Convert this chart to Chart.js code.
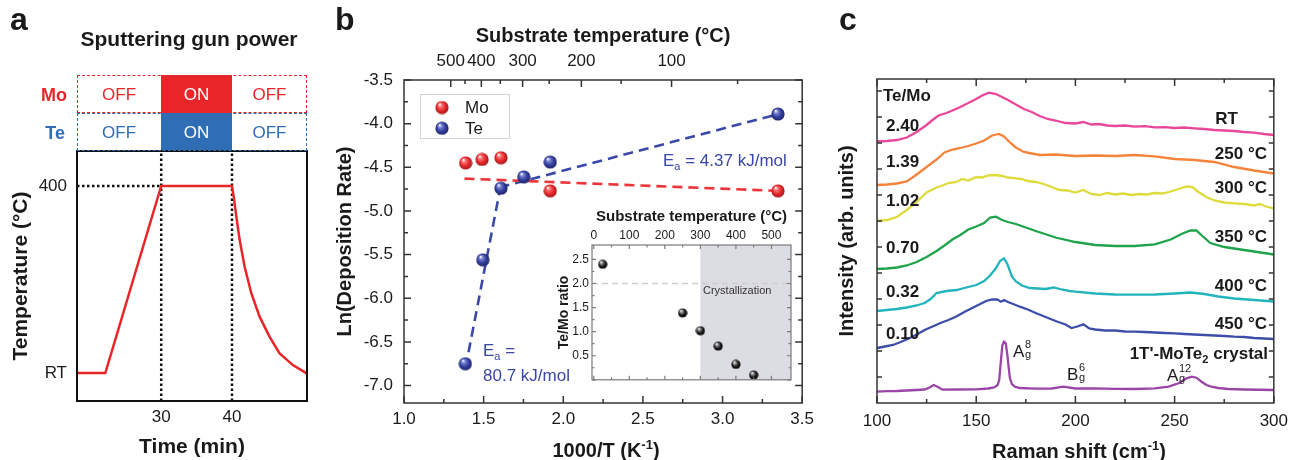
<!DOCTYPE html>
<html>
<head>
<meta charset="utf-8">
<script src="https://cdn.jsdelivr.net/npm/chart.js@4.4.0/dist/chart.umd.min.js"></script>
<style>
body { margin: 0; background: #fff; }
#wrap { position: relative; width: 1296px; height: 460px; overflow: hidden; font-family: "Liberation Sans", Arial, sans-serif; color: #1a1a1a; }
canvas { position: absolute; }
.t { position: absolute; line-height: 1; white-space: nowrap; }
.box { position: absolute; box-sizing: border-box; }
sub, sup { font-size: 0.65em; line-height: 0; }
</style>
</head>
<body>
<div id="wrap">
  <canvas id="chartA" width="320" height="460" style="left:0;top:0"></canvas>
  <canvas id="chartB" width="490" height="460" style="left:330px;top:0"></canvas>
  <canvas id="chartInset" width="257" height="190" style="left:540px;top:200px"></canvas>
  <canvas id="chartC" width="466" height="460" style="left:830px;top:0"></canvas>
</div>
<script>
// ---------- panel a: substrate temperature profile ----------
const profTime = [18.1, 22.1, 30, 40, 40.28, 40.62, 41.08, 41.79, 42.73, 43.9, 45.3, 46.7, 48.6, 50.6];
const profTemp = [25, 25, 400, 400, 375, 338, 292, 238, 185, 138, 98, 65, 41, 24];
const gunOn = [30, 40];
const plateauTemp = 400;
const roomTemp = 25;
const timeTicks = [30, 40];
const tempTicks = [25, 400];

// ---------- panel b: Arrhenius plot ----------
const moInvT = [1.387, 1.49, 1.609, 1.918, 3.348];
const moLnRate = [-4.45, -4.41, -4.39, -4.77, -4.77];
const teInvT = [1.385, 1.495, 1.609, 1.752, 1.918, 3.348];
const teLnRate = [-6.75, -5.56, -4.74, -4.61, -4.44, -3.89];
const moFitX = [1.38, 3.35];
const moFitY = [-4.63, -4.77];
const teFitLowX = [1.405, 1.60];
const teFitLowY = [-6.62, -4.78];
const teFitHighX = [1.60, 3.33];
const teFitHighY = [-4.73, -3.90];
const invTTicks = [1.0, 1.5, 2.0, 2.5, 3.0, 3.5];
const lnRateTicks = [-7.0, -6.5, -6.0, -5.5, -5.0, -4.5, -4.0, -3.5];
const topTemps = [500, 400, 300, 200, 100];
const topTempsMinor = [450, 350, 250, 150, 50];

// inset: Te/Mo ratio vs substrate temperature
const insetTemp = [25, 250, 300, 350, 400, 450];
const insetRatio = [2.40, 1.39, 1.02, 0.70, 0.32, 0.10];
const insetTempTicks = [0, 100, 200, 300, 400, 500];
const insetRatioTicks = [0, 0.5, 1.0, 1.5, 2.0, 2.5];
const crystTemp = 300;
const stoichRatio = 2.0;

// ---------- panel c: Raman spectra (offset, arb. units) ----------
const rtShift = [100,105,110,115,120,125,128,131,135,138,142,146,150,153,156.5,160,163,166,170,174,178,182,186,190,195,200,204,208,212,216,220,225,230,235,240,245,250,255,260,265,270,275,280,285,290,295,300];
const rtInt   = [261.5,262,263,265.5,271,278,283,287.5,290,292.5,296,300,304,307.5,310.3,309,306,303,298.5,294,291,287,284,282.5,280,279.5,281,278.5,279,277.5,277,277.5,276.3,276.8,275.7,275.8,275,275.5,274.7,274,273,272.5,272,271,270.3,269,268];
const orShift = [100,105,110,115,120,125,130,134,138,142,146,150,154,158,161.5,164,167,170,174,178,182,190,200,210,220,230,240,250,260,270,280,290,300];
const orInt   = [218,218.5,219.5,221.5,228.5,236,243.5,250.5,253.5,255,257,259.5,262.5,267.5,269,266.5,260.5,255.5,251,249.5,248,248.5,247,247.5,247,248,246.7,244,243,241,236,232.5,229.5];
const yeShift = [100,105,110,115,120,125,130,133,136,140,143,146,150,153,156,160,163,166,170,173,176,180,184,188,192,196,200,204,208,212,216,220,224,228,232,236,240,244,248,252,256,259,262,266,270,275,280,285,290,293,296,300];
const yeInt   = [182,183,186,193,201,210.5,215.5,217.5,220,221,224,222.5,226,225.5,227.5,228,227,225.5,224.7,224,222,221,219,216,213,212.5,210.5,213,209,208,210,208.5,209.5,208,209,208.5,210,209.5,211.5,214,216.5,216,211,206,202.5,200.5,199.7,199,197.5,199,196.5,194.7];
const grShift = [100,105,110,115,120,125,130,134,138,142,146,150,154,157,160,163,166,170,175,180,190,200,210,220,230,240,248,254,258,261,264,268,275,285,300];
const grInt   = [134,134.5,135.5,137.5,141,146,152,157.5,163.5,168,173.5,176.5,180,185.5,186.3,183,181,179,175.5,172,165.5,161,158,157,157,158.7,163.5,169.5,172.5,172.5,167,160,156,153,148.5];
const cyShift = [100,105,110,115,120,124,127,130,135,140,145,150,154,157,160,162,164,165.7,168,170,173,177,181,185,189,193,197,200,210,220,230,240,250,258,265,272,280,290,300];
const cyInt   = [92,93,94,95.5,97.5,100,104,110,112,113,115.5,118,122,127.5,135,142,144.7,139,126.5,121.5,117.5,115,114.5,114,115.5,113.5,112,111.3,109.5,108.5,108.3,108.5,109.5,110.5,109,106.5,104.5,103,101.5];
const blShift = [100,104,108,112,116,120,124,128,132,136,140,144,148,152,155,158,160.5,162.5,164,166,168,172,176,180,185,190,195,198,201,204,207,210,215,220,225,230,235,240,245,250,255,260,265,270,275,280,285,290,295,300];
const blInt   = [55,56.5,58,61,64.5,68.5,73,76.5,80,83,86.5,91,95,99,102,103.5,103.7,101.3,103,101,99.5,96.3,93.5,90,86,82,78.5,75,76.5,78.7,74.5,73.5,72.5,72.5,71.5,71.3,71,70.5,70,69.7,69,68.5,68,67.5,67,66.3,66,65,64.5,64];
const puShift = [100,105,110,115,120,124,126.5,128.6,130.5,133,140,150,156,159,160.8,161.6,162.4,163.2,164,164.9,165.7,166.4,167,168,169.5,172,180,188,194,200,210,220,230,240,247,252,256,258.6,261,263.6,266,268.5,272,277,285,300];
const puInt   = [11.3,11.8,12,12.5,13,13.5,15.5,18,16.3,13.3,13.5,13.7,14.5,15.5,18,23,41.3,58,61.3,59.7,48,35,24.7,19,16.3,15,14.3,14.5,16.3,14.5,14.7,14.2,14,14.7,16.3,19.7,24.7,26.3,25.3,21.3,18,16.3,15,14,13.5,13];
const ramanTicks = [100, 150, 200, 250, 300];
const intensityTicks = [26, 52, 78, 104, 130, 156, 182, 208, 234, 260, 286, 312];

const FONT = '"Liberation Sans", Arial, sans-serif';
Chart.defaults.font.family = FONT;
Chart.defaults.color = '#1a1a1a';
Chart.defaults.animation = false;
Chart.defaults.plugins.legend.display = false;
Chart.defaults.plugins.tooltip.enabled = false;

const wrap = document.getElementById('wrap');
const pts = (xs, ys) => xs.map((x, i) => ({ x: x, y: ys[i] }));

// shaded sphere used as point marker
function ball(r, light, base, dark) {
  const c = document.createElement('canvas');
  c.width = c.height = 2 * r;
  const g = c.getContext('2d');
  const grad = g.createRadialGradient(r * 0.65, r * 0.55, r * 0.05, r, r, r);
  grad.addColorStop(0, '#ffffff');
  grad.addColorStop(0.22, light);
  grad.addColorStop(0.6, base);
  grad.addColorStop(1, dark);
  g.fillStyle = grad;
  g.beginPath();
  g.arc(r, r, r - 0.4, 0, Math.PI * 2);
  g.fill();
  return c;
}
const redBall = ball(7, '#f77a7a', '#e8292e', '#9e1414');
const blueBall = ball(7, '#7c86d6', '#34409e', '#1b2266');
const blackBall = ball(5, '#9a9a9a', '#1c1c1c', '#000000');

// frame, inward ticks, background and shading
const frameTicks = {
  id: 'frameTicks',
  beforeDatasetsDraw(chart, args, o) {
    const { ctx, chartArea: a } = chart;
    ctx.save();
    if (o.bg) { ctx.fillStyle = o.bg; ctx.fillRect(a.left, a.top, a.width, a.height); }
    if (o.shadeFrom !== undefined) {
      const x0 = chart.scales.x.getPixelForValue(o.shadeFrom);
      ctx.fillStyle = o.shadeColor;
      ctx.fillRect(x0, a.top, a.right - x0, a.height);
    }
    ctx.restore();
  },
  afterDatasetsDraw(chart, args, o) {
    const { ctx, chartArea: a } = chart;
    ctx.save();
    ctx.strokeStyle = o.color;
    ctx.lineWidth = o.width;
    ctx.beginPath();
    (o.marks || []).forEach(m => {
      const s = chart.scales[m.scale];
      m.values.forEach(v => {
        const p = s.getPixelForValue(v);
        if (s.isHorizontal()) {
          if (m.sides.includes('b')) { ctx.moveTo(p, a.bottom); ctx.lineTo(p, a.bottom - m.len); }
          if (m.sides.includes('t')) { ctx.moveTo(p, a.top); ctx.lineTo(p, a.top + m.len); }
        } else {
          if (m.sides.includes('l')) { ctx.moveTo(a.left, p); ctx.lineTo(a.left + m.len, p); }
          if (m.sides.includes('r')) { ctx.moveTo(a.right, p); ctx.lineTo(a.right - m.len, p); }
        }
      });
    });
    ctx.stroke();
    ctx.strokeRect(a.left, a.top, a.width, a.height);
    ctx.restore();
  }
};

const mids = arr => arr.slice(1).map((v, i) => (v + arr[i]) / 2);

function label(html, x, y, size, o) {
  o = o || {};
  const d = document.createElement('div');
  d.className = 't';
  d.innerHTML = html;
  const shift = o.align === 'c' ? '-50%' : o.align === 'r' ? '-100%' : '0';
  d.style.left = x + 'px';
  d.style.top = (y - 0.4885 * size).toFixed(1) + 'px';
  d.style.fontSize = size + 'px';
  d.style.fontWeight = o.bold ? 'bold' : 'normal';
  d.style.color = o.color || '#1a1a1a';
  d.style.transform = 'translateX(' + shift + ')';
  wrap.appendChild(d);
}

function rect(x, y, w, h, css) {
  const d = document.createElement('div');
  d.className = 'box';
  d.style.cssText += 'left:' + x + 'px;top:' + y + 'px;width:' + w + 'px;height:' + h + 'px;' + css;
  wrap.appendChild(d);
}

const noGrid = { display: false, drawTicks: false };
const dotted = { showLine: true, borderColor: '#111', borderWidth: 2.5, borderDash: [2.5, 2.5], pointRadius: 0, order: 1 };

// ---------- chart a ----------
const tMin = 18.1, tMax = 50.6, TMin = -31, TMax = 470;
const chartA = new Chart(document.getElementById('chartA'), {
  type: 'scatter',
  data: {
    datasets: [
      { data: pts(profTime, profTemp), showLine: true, borderColor: '#e8262a', borderWidth: 2.5, pointRadius: 0, order: 0 },
      Object.assign({ data: pts([gunOn[0], gunOn[0]], [TMin, TMax]) }, dotted),
      Object.assign({ data: pts([gunOn[1], gunOn[1]], [TMin, TMax]) }, dotted),
      Object.assign({ data: pts([tMin, gunOn[0]], [plateauTemp, plateauTemp]) }, dotted)
    ]
  },
  options: {
    responsive: false,
    layout: { padding: { top: 151, right: 13, left: 0, bottom: 0 } },
    scales: {
      x: {
        type: 'linear', min: tMin, max: tMax,
        afterBuildTicks: s => { s.ticks = timeTicks.map(v => ({ value: v })); },
        afterFit: s => { s.height = 59; },
        grid: noGrid, border: { display: false },
        ticks: { font: { size: 17 }, padding: 6, maxRotation: 0 },
        title: { display: true, text: 'Time (min)', font: { size: 21, weight: 'bold' }, padding: 0 }
      },
      y: {
        type: 'linear', min: TMin, max: TMax,
        afterBuildTicks: s => { s.ticks = tempTicks.map(v => ({ value: v })); },
        afterFit: s => { s.width = 77; },
        grid: noGrid, border: { display: false },
        ticks: { font: { size: 17 }, padding: 10, callback: v => v === roomTemp ? 'RT' : String(v) },
        title: { display: true, text: 'Temperature (°C)', font: { size: 21, weight: 'bold' }, padding: { top: 9 } }
      }
    },
    plugins: { frameTicks: { color: '#111', width: 2 } }
  },
  plugins: [frameTicks]
});

// ---------- chart b ----------
const legendB = {
  id: 'legendB',
  afterDraw(chart) {
    const { ctx, chartArea: a } = chart;
    const x = a.left + 16, y = a.top + 14;
    ctx.save();
    ctx.strokeStyle = '#d4d4d4';
    ctx.lineWidth = 1;
    ctx.strokeRect(x + 0.5, y + 0.5, 89, 44);
    [[redBall, 'Mo'], [blueBall, 'Te']].forEach((it, i) => {
      const cy = y + 13.5 + i * 20.7;
      ctx.drawImage(it[0], x + 22 - it[0].width / 2, cy - it[0].height / 2);
      ctx.fillStyle = '#1a1a1a';
      ctx.font = '17px ' + FONT;
      ctx.textBaseline = 'middle';
      ctx.fillText(it[1], x + 45, cy + 1);
    });
    ctx.restore();
  }
};
const dashLine = (xs, ys, color) => ({ data: pts(xs, ys), showLine: true, borderColor: color, borderWidth: 2.6, borderDash: [10, 6], pointRadius: 0, order: 2 });
const invTicksMinor = mids(invTTicks);
const lnTicksMinor = mids(lnRateTicks);
const toInv = t => 1000 / (t + 273.15);

const chartB = new Chart(document.getElementById('chartB'), {
  type: 'scatter',
  data: {
    datasets: [
      { data: pts(moInvT, moLnRate), pointStyle: redBall, pointRadius: 7, order: 0 },
      { data: pts(teInvT, teLnRate), pointStyle: blueBall, pointRadius: 7, order: 0 },
      dashLine(moFitX, moFitY, '#e8363c'),
      dashLine(teFitLowX, teFitLowY, '#3a48a8'),
      dashLine(teFitHighX, teFitHighY, '#3a48a8')
    ]
  },
  options: {
    responsive: false,
    layout: { padding: { top: 0, right: 15, left: 0, bottom: 0 } },
    scales: {
      x: {
        type: 'linear', min: 1.0, max: 3.5,
        afterBuildTicks: s => { s.ticks = invTTicks.map(v => ({ value: v })); },
        afterFit: s => { s.height = 57; },
        grid: noGrid, border: { display: false },
        ticks: { font: { size: 17 }, padding: 6, maxRotation: 0, callback: v => v.toFixed(1) }
      },
      x2: {
        type: 'linear', position: 'top', min: 1.0, max: 3.5,
        afterBuildTicks: s => { s.ticks = topTemps.map(t => ({ value: toInv(t) })); },
        afterFit: s => { s.height = 80; },
        grid: noGrid, border: { display: false },
        ticks: { font: { size: 17 }, padding: 8, maxRotation: 0, autoSkip: false, callback: v => String(Math.round(1000 / v - 273.15)) },
        title: { display: true, text: 'Substrate temperature (°C)', font: { size: 20, weight: 'bold' }, padding: { top: 24, bottom: 0 } }
      },
      y: {
        type: 'linear', min: -7.2, max: -3.5,
        afterBuildTicks: s => { s.ticks = lnRateTicks.map(v => ({ value: v })); },
        afterFit: s => { s.width = 74; },
        grid: noGrid, border: { display: false },
        ticks: { font: { size: 17 }, padding: 11, callback: v => v.toFixed(1) },
        title: { display: true, text: 'Ln(Deposition Rate)', font: { size: 20, weight: 'bold' }, padding: { top: 3 } }
      }
    },
    plugins: {
      frameTicks: {
        color: '#333', width: 1.5,
        marks: [
          { scale: 'x', values: invTTicks, len: 7, sides: 'b' },
          { scale: 'x', values: invTicksMinor, len: 4, sides: 'b' },
          { scale: 'x2', values: topTemps.map(toInv), len: 7, sides: 't' },
          { scale: 'x2', values: topTempsMinor.map(toInv), len: 4, sides: 't' },
          { scale: 'y', values: lnRateTicks, len: 7, sides: 'lr' },
          { scale: 'y', values: lnTicksMinor, len: 4, sides: 'lr' }
        ]
      }
    }
  },
  plugins: [frameTicks, legendB]
});

// ---------- inset ----------
const iMin = -5, iMax = 555;
const chartInset = new Chart(document.getElementById('chartInset'), {
  type: 'scatter',
  data: {
    datasets: [
      { data: pts(insetTemp, insetRatio), pointStyle: blackBall, pointRadius: 5, order: 0 },
      { data: pts([iMin, iMax], [stoichRatio, stoichRatio]), showLine: true, borderColor: '#cdcdcd', borderWidth: 1.5, borderDash: [6, 4], pointRadius: 0, order: 1 }
    ]
  },
  options: {
    responsive: false,
    layout: { padding: { top: 0, right: 2, left: 0, bottom: 3 } },
    scales: {
      x: {
        type: 'linear', position: 'top', min: iMin, max: iMax,
        afterBuildTicks: s => { s.ticks = insetTempTicks.map(v => ({ value: v })); },
        afterFit: s => { s.height = 45; },
        grid: noGrid, border: { display: false },
        ticks: { font: { size: 12 }, padding: 2, maxRotation: 0, autoSkip: false },
        title: { display: true, text: 'Substrate temperature (°C)', font: { size: 15, weight: 'bold' }, padding: { top: 7.5, bottom: 0 } }
      },
      y: {
        type: 'linear', min: 0, max: 2.8,
        afterBuildTicks: s => { s.ticks = insetRatioTicks.map(v => ({ value: v })); },
        afterFit: s => { s.width = 52; },
        grid: noGrid, border: { display: false },
        ticks: { font: { size: 12 }, padding: 3, callback: v => v === 0 ? '' : v.toFixed(1) },
        title: { display: true, text: 'Te/Mo ratio', font: { size: 14, weight: 'bold' }, padding: { top: 15.5 } }
      }
    },
    plugins: {
      frameTicks: {
        color: '#7a7a7a', width: 1.2, bg: '#ffffff', shadeFrom: crystTemp, shadeColor: '#dcdde2',
        marks: [
          { scale: 'x', values: insetTempTicks, len: 4, sides: 'tb' },
          { scale: 'x', values: mids(insetTempTicks), len: 2.5, sides: 'tb' },
          { scale: 'y', values: insetRatioTicks, len: 4, sides: 'lr' },
          { scale: 'y', values: mids(insetRatioTicks), len: 2.5, sides: 'lr' }
        ]
      }
    }
  },
  plugins: [frameTicks]
});

// ---------- chart c ----------
const spec = (xs, ys, color) => ({ data: pts(xs, ys), showLine: true, borderColor: color, borderWidth: 2.3, pointRadius: 0 });
const chartC = new Chart(document.getElementById('chartC'), {
  type: 'scatter',
  data: {
    datasets: [
      spec(rtShift, rtInt, '#e9479b'),
      spec(orShift, orInt, '#f5843a'),
      spec(yeShift, yeInt, '#dedb3c'),
      spec(grShift, grInt, '#1fa34b'),
      spec(cyShift, cyInt, '#22b4bc'),
      spec(blShift, blInt, '#3c4ea9'),
      spec(puShift, puInt, '#9b45a9')
    ]
  },
  options: {
    responsive: false,
    layout: { padding: { top: 79, right: 14, left: 0, bottom: 0 } },
    scales: {
      x: {
        type: 'linear', min: 100, max: 300,
        afterBuildTicks: s => { s.ticks = ramanTicks.map(v => ({ value: v })); },
        afterFit: s => { s.height = 57; },
        grid: noGrid, border: { display: false },
        ticks: { font: { size: 17 }, padding: 8, maxRotation: 0 }
      },
      y: {
        type: 'linear', min: 0, max: 324,
        afterBuildTicks: s => { s.ticks = intensityTicks.map(v => ({ value: v })); },
        afterFit: s => { s.width = 47; },
        grid: noGrid, border: { display: false },
        ticks: { callback: () => '' },
        title: { display: true, text: 'Intensity (arb. units)', font: { size: 20, weight: 'bold' }, padding: { top: 5 } }
      }
    },
    plugins: {
      frameTicks: {
        color: '#333', width: 1.5,
        marks: [
          { scale: 'x', values: ramanTicks, len: 7, sides: 'tb' },
          { scale: 'x', values: mids(ramanTicks), len: 4, sides: 'tb' },
          { scale: 'y', values: intensityTicks, len: 5, sides: 'lr' }
        ]
      }
    }
  },
  plugins: [frameTicks]
});

// ---------- text overlays ----------
const red = '#e8262a', blue = '#2f6db5', eaBlue = '#3a46a8';
label('a', 10, 18.5, 32, { bold: true });
label('b', 335, 18.5, 32, { bold: true });
label('c', 839, 18.5, 32, { bold: true });

// sputtering gun table aligned with the time axis
label('Sputtering gun power', 189, 38.5, 21, { bold: true, align: 'c' });
const xs = chartA.scales.x;
const xL = chartA.chartArea.left, xR = chartA.chartArea.right;
const xOn = xs.getPixelForValue(gunOn[0]), xOff = xs.getPixelForValue(gunOn[1]);
const rowMo = 75, rowTe = 113, rowH = 38;
rect(xL, rowMo, xR - xL, rowH, 'border:1.5px dashed ' + red + ';');
rect(xL, rowTe, xR - xL, rowH, 'border:1.5px dashed ' + blue + ';');
rect(xOn, rowMo, xOff - xOn, rowH, 'background:' + red + ';');
rect(xOn, rowTe, xOff - xOn, rowH - 1, 'background:' + blue + ';');
[[rowMo, red], [rowTe, blue]].forEach(r => {
  const cy = r[0] + rowH / 2;
  label('OFF', (xL + xOn) / 2, cy, 17, { align: 'c', color: r[1] });
  label('ON', (xOn + xOff) / 2, cy, 17, { align: 'c', color: '#fff' });
  label('OFF', (xOff + xR) / 2, cy, 17, { align: 'c', color: r[1] });
});
label('Mo', 67, 95, 18, { bold: true, align: 'r', color: red });
label('Te', 65, 133, 18, { bold: true, align: 'r', color: blue });

// panel b annotations
label('E<sub>a</sub> = 4.37 kJ/mol', 663, 160, 17, { color: eaBlue });
label('E<sub>a</sub> =', 483, 350, 17, { color: eaBlue });
label('80.7 kJ/mol', 483, 375, 17, { color: eaBlue });
label('1000/T (K<sup>-1</sup>)', 606, 450, 20, { bold: true, align: 'c' });
label('Crystallization', 703, 290, 11, { color: '#333' });

// panel c annotations
label('Raman shift (cm<sup>-1</sup>)', 1079, 451, 20, { bold: true, align: 'c' });
label('Te/Mo', 883, 95, 17, { bold: true });
[['2.40', 125], ['1.39', 161.5], ['1.02', 200], ['0.70', 247.5], ['0.32', 291], ['0.10', 333]].forEach(r => label(r[0], 886, r[1], 17, { bold: true }));
label('RT', 1238, 118.5, 17, { bold: true, align: 'r' });
[['250 °C', 153.5], ['300 °C', 187], ['350 °C', 236.5], ['400 °C', 285], ['450 °C', 323.5]].forEach(r => label(r[0], 1267, r[1], 17, { bold: true, align: 'r' }));
label("1T'-MoTe<sub>2</sub> crystal", 1268, 353.5, 17, { bold: true, align: 'r' });
function peak(letter, sup, x, y) {
  label(letter, x, y, 17);
  label(sup, x + 12, y - 7, 11);
  label('g', x + 12, y + 3, 11);
}
peak('A', '8', 1013, 351.5);
peak('B', '6', 1067, 374);
peak('A', '12', 1167, 375);
</script>
</body>
</html>
